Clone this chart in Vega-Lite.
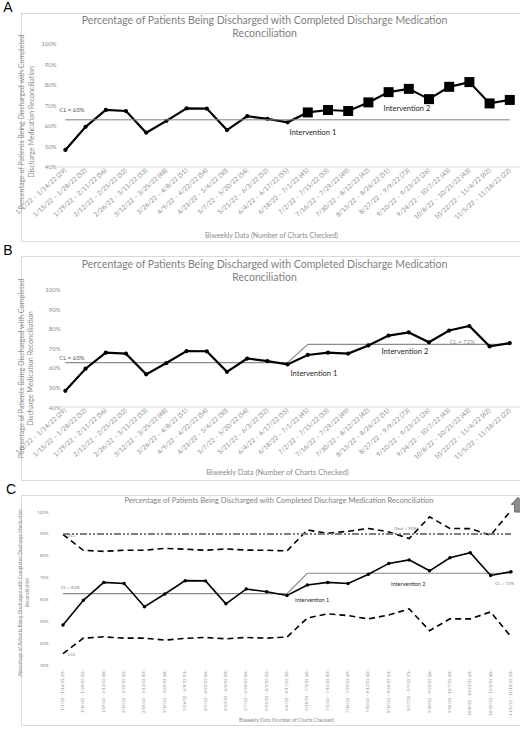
{
  "$schema": "https://vega.github.io/schema/vega-lite/v6.json",
  "padding": {"left": 2, "top": 0, "right": 0, "bottom": 0},
  "background": "white",
  "spacing": 15,
  "bounds": "flush",
  "config": {
    "view": {"stroke": "#d9d9d9", "strokeWidth": 1},
    "font": "Lato",
    "axis": {"labelFont": "Lato", "titleFont": "Lato"},
    "text": {"font": "Lato"},
    "title": {"font": "Liberation Sans", "fontSize": 14, "fontWeight": "normal", "color": "#000000", "anchor": "start", "dx": -11, "offset": -2}
  },
  "datasets": {
    "d": [
      {"period": "1/1/22 – 1/14/22 (29)", "pct": 48.3, "phase": "p1", "cl": 62.7, "ucl": 89.7, "lcl": 35.2},
      {"period": "1/15/22 – 1/28/22 (52)", "pct": 59.6, "phase": "p1", "cl": 62.7, "ucl": 82.5, "lcl": 42.3},
      {"period": "1/29/22 – 2/11/22 (56)", "pct": 67.8, "phase": "p1", "cl": 62.7, "ucl": 82.0, "lcl": 42.9},
      {"period": "2/12/22 – 2/25/22 (52)", "pct": 67.3, "phase": "p1", "cl": 62.7, "ucl": 82.5, "lcl": 42.3},
      {"period": "2/26/22 – 3/11/22 (53)", "pct": 56.7, "phase": "p1", "cl": 62.7, "ucl": 82.5, "lcl": 42.3},
      {"period": "3/12/22 – 3/25/22 (48)", "pct": 62.5, "phase": "p1", "cl": 62.7, "ucl": 83.4, "lcl": 41.4},
      {"period": "3/26/22 – 4/8/22 (51)", "pct": 68.6, "phase": "p1", "cl": 62.7, "ucl": 83.0, "lcl": 42.2},
      {"period": "4/9/22 – 4/22/22 (54)", "pct": 68.5, "phase": "p1", "cl": 62.7, "ucl": 82.5, "lcl": 42.6},
      {"period": "4/23/22 – 5/6/22 (50)", "pct": 58.0, "phase": "p1", "cl": 62.7, "ucl": 83.1, "lcl": 42.0},
      {"period": "5/7/22 – 5/20/22 (54)", "pct": 64.8, "phase": "p1", "cl": 62.7, "ucl": 82.6, "lcl": 42.6},
      {"period": "5/21/22 – 6/3/22 (52)", "pct": 63.5, "phase": "p1", "cl": 62.7, "ucl": 82.5, "lcl": 42.3},
      {"period": "6/4/22 – 6/17/22 (55)", "pct": 61.8, "phase": "p1", "cl": 62.7, "ucl": 82.2, "lcl": 42.8},
      {"period": "6/18/22 – 7/1/22 (45)", "pct": 66.6, "phase": "p2", "cl": 72.0, "ucl": 91.8, "lcl": 51.5},
      {"period": "7/2/22 – 7/15/22 (53)", "pct": 67.8, "phase": "p2", "cl": 72.0, "ucl": 90.3, "lcl": 53.4},
      {"period": "7/16/22 – 7/29/22 (49)", "pct": 67.3, "phase": "p2", "cl": 72.0, "ucl": 91.2, "lcl": 52.6},
      {"period": "7/30/22 – 8/12/22 (42)", "pct": 71.5, "phase": "p2", "cl": 72.0, "ucl": 92.5, "lcl": 51.1},
      {"period": "8/13/22 – 8/26/22 (51)", "pct": 76.5, "phase": "p2", "cl": 72.0, "ucl": 90.9, "lcl": 52.9},
      {"period": "8/27/22 – 9/9/22 (73)", "pct": 78.1, "phase": "p2", "cl": 72.0, "ucl": 87.9, "lcl": 55.7},
      {"period": "9/10/22 – 9/23/22 (26)", "pct": 73.1, "phase": "p2", "cl": 72.0, "ucl": 97.8, "lcl": 45.7},
      {"period": "9/24/22 – 10/7/22 (43)", "pct": 79.1, "phase": "p2", "cl": 72.0, "ucl": 92.5, "lcl": 51.1},
      {"period": "10/8/22 – 10/21/22 (43)", "pct": 81.4, "phase": "p2", "cl": 72.0, "ucl": 92.4, "lcl": 51.1},
      {"period": "10/22/22 – 11/4/22 (62)", "pct": 71.0, "phase": "p2", "cl": 72.0, "ucl": 89.4, "lcl": 54.3},
      {"period": "11/5/22 – 11/18/22 (22)", "pct": 72.7, "phase": "p2", "cl": 72.0, "ucl": 100.7, "lcl": 42.9}
    ]
  },
  "vconcat": [
    {
      "title": {"text": "A"},
      "width": 505,
      "height": 228,
      "data": {"name": "d"},
      "layer": [
        {
          "mark": {"type": "line", "color": "#000000", "strokeWidth": 2.2},
          "encoding": {
            "x": {
              "field": "period", "type": "ordinal", "sort": null,
              "scale": {"type": "band", "paddingInner": 0, "paddingOuter": 1.35, "align": 0.849},
              "axis": {
                "orient": "bottom", "offset": -74, "labelAngle": -42, "labelAlign": "right", "labelBaseline": "middle",
                "labelPadding": 2, "labelFontSize": 6.5, "labelColor": "#8c8c8c", "ticks": false, "domain": false, "grid": false,
                "labelOverlap": false, "labelLimit": 0,
                "title": "Biweekly Data (Number of Charts Checked)", "titleFontSize": 7, "titleColor": "#8c8c8c", "titleFontWeight": "normal",
                "titleX": 250, "titleY": 68, "titleBaseline": "middle", "titleAlign": "center"
              }
            },
            "y": {
              "field": "pct", "type": "quantitative",
              "scale": {"domain": [3.9, 115.1], "nice": false, "zero": false},
              "axis": {
                "orient": "left", "offset": -36, "values": [40, 50, 60, 70, 80, 90, 100], "tickCount": 30, "labelExpr": "datum.value + '%'",
                "ticks": false, "domain": false, "grid": false, "labelPadding": 1, "labelFontSize": 6, "labelColor": "#8c8c8c", "labelOverlap": false,
                "title": ["Percentage of Patients Being Discharged with Completed", "Discharge Medication Reconciliation"],
                "titleFontSize": 7, "titleColor": "#8c8c8c", "titleFontWeight": "normal", "titleX": -36, "titleY": 108.5,
                "titleAngle": -90, "titleAlign": "center", "titleBaseline": "middle", "titleLineHeight": 10
              }
            }
          }
        },
        {
          "mark": {"type": "point", "filled": true, "color": "#000000", "opacity": 1},
          "encoding": {
            "x": {"field": "period", "type": "ordinal", "sort": null},
            "y": {"field": "pct", "type": "quantitative"},
            "shape": {"field": "phase", "type": "nominal", "scale": {"domain": ["p1", "p2"], "range": ["circle", "square"]}, "legend": null},
            "size": {"field": "phase", "type": "ordinal", "scale": {"domain": ["p1", "p2"], "range": [18, 100]}, "legend": null}
          }
        },
        {
          "data": {"values": [{}]},
          "mark": {"type": "rule", "color": "#d9d9d9", "strokeWidth": 1},
          "encoding": {
            "x": {"datum": "1/1/22 – 1/14/22 (29)", "type": "ordinal", "bandPosition": 0},
            "x2": {"datum": "11/5/22 – 11/18/22 (22)", "bandPosition": 1},
            "y": {"datum": 40, "type": "quantitative"}
          }
        },
        {
          "data": {"values": [{}]},
          "mark": {"type": "rule", "color": "#7f7f7f", "strokeWidth": 1},
          "encoding": {
            "x": {"datum": "1/1/22 – 1/14/22 (29)", "type": "ordinal"},
            "x2": {"datum": "11/5/22 – 11/18/22 (22)"},
            "y": {"datum": 63, "type": "quantitative"}
          }
        },
        {
          "data": {"values": [{}]},
          "mark": {"type": "text", "text": "Percentage of Patients Being Discharged with Completed Discharge Medication", "align": "center", "baseline": "middle", "dx": -23, "fontSize": 10.5, "color": "#7f7f7f"},
          "encoding": {"x": {"datum": "6/4/22 – 6/17/22 (55)", "type": "ordinal"}, "y": {"datum": 111.2, "type": "quantitative"}}
        },
        {
          "data": {"values": [{}]},
          "mark": {"type": "text", "text": "Reconciliation", "align": "center", "baseline": "middle", "dx": -23, "fontSize": 10.5, "color": "#7f7f7f"},
          "encoding": {"x": {"datum": "6/4/22 – 6/17/22 (55)", "type": "ordinal"}, "y": {"datum": 104.9, "type": "quantitative"}}
        },
        {
          "data": {"values": [{}]},
          "mark": {"type": "text", "text": "CL = 63%", "align": "left", "baseline": "middle", "dx": -6, "fontSize": 6, "color": "#595959"},
          "encoding": {"x": {"datum": "1/1/22 – 1/14/22 (29)", "type": "ordinal"}, "y": {"datum": 67.7, "type": "quantitative"}}
        },
        {
          "data": {"values": [{}]},
          "mark": {"type": "text", "text": "Intervention 1", "align": "left", "baseline": "middle", "dx": 2, "fontSize": 7.5, "color": "#262626"},
          "encoding": {"x": {"datum": "6/4/22 – 6/17/22 (55)", "type": "ordinal"}, "y": {"datum": 56.7, "type": "quantitative"}}
        },
        {
          "data": {"values": [{}]},
          "mark": {"type": "text", "text": "Intervention 2", "align": "left", "baseline": "middle", "dx": -5, "fontSize": 7.5, "color": "#262626"},
          "encoding": {"x": {"datum": "8/13/22 – 8/26/22 (51)", "type": "ordinal"}, "y": {"datum": 68.5, "type": "quantitative"}}
        }
      ]
    },
    {
      "title": {"text": "B"},
      "width": 505,
      "height": 224,
      "data": {"name": "d"},
      "layer": [
        {
          "mark": {"type": "line", "color": "#8c8c8c", "strokeWidth": 1.2},
          "encoding": {
            "x": {
              "field": "period", "type": "ordinal", "sort": null,
              "scale": {"type": "band", "paddingInner": 0, "paddingOuter": 1.357, "align": 0.848},
              "axis": {
                "orient": "bottom", "offset": -73, "labelAngle": -42, "labelAlign": "right", "labelBaseline": "middle",
                "labelPadding": 2, "labelFontSize": 6.5, "labelColor": "#8c8c8c", "ticks": false, "domain": false, "grid": false,
                "labelOverlap": false, "labelLimit": 0,
                "title": "Biweekly Data (Number of Charts Checked)", "titleFontSize": 7.5, "titleColor": "#8c8c8c", "titleFontWeight": "normal",
                "titleX": 256, "titleY": 65, "titleBaseline": "middle", "titleAlign": "center"
              }
            },
            "y": {
              "field": "cl", "type": "quantitative",
              "scale": {"domain": [2.7, 117.2], "nice": false, "zero": false},
              "axis": {
                "orient": "left", "offset": -40, "values": [40, 50, 60, 70, 80, 90, 100], "tickCount": 30, "labelExpr": "datum.value + '%'",
                "ticks": false, "domain": false, "grid": false, "labelPadding": 1, "labelFontSize": 6, "labelColor": "#8c8c8c", "labelOverlap": false,
                "title": ["Percentage of Patients Being Discharged with Completed", "Discharge Medication Reconciliation"],
                "titleFontSize": 7.2, "titleColor": "#8c8c8c", "titleFontWeight": "normal", "titleX": -40, "titleY": 112,
                "titleAngle": -90, "titleAlign": "center", "titleBaseline": "middle", "titleLineHeight": 9
              }
            }
          }
        },
        {
          "mark": {"type": "line", "color": "#000000", "strokeWidth": 2.2},
          "encoding": {
            "x": {"field": "period", "type": "ordinal", "sort": null},
            "y": {"field": "pct", "type": "quantitative"}
          }
        },
        {
          "mark": {"type": "point", "filled": true, "color": "#000000", "opacity": 1, "shape": "circle", "size": 18},
          "encoding": {
            "x": {"field": "period", "type": "ordinal", "sort": null},
            "y": {"field": "pct", "type": "quantitative"}
          }
        },
        {
          "data": {"values": [{}]},
          "mark": {"type": "rule", "color": "#d9d9d9", "strokeWidth": 1},
          "encoding": {
            "x": {"datum": "1/1/22 – 1/14/22 (29)", "type": "ordinal", "bandPosition": 0},
            "x2": {"datum": "11/5/22 – 11/18/22 (22)", "bandPosition": 1},
            "y": {"datum": 40, "type": "quantitative"}
          }
        },
        {
          "data": {"values": [{}]},
          "mark": {"type": "text", "text": "Percentage of Patients Being Discharged with Completed Discharge Medication", "align": "center", "baseline": "middle", "dx": -23, "fontSize": 10.5, "color": "#7f7f7f"},
          "encoding": {"x": {"datum": "6/4/22 – 6/17/22 (55)", "type": "ordinal"}, "y": {"datum": 112.6, "type": "quantitative"}}
        },
        {
          "data": {"values": [{}]},
          "mark": {"type": "text", "text": "Reconciliation", "align": "center", "baseline": "middle", "dx": -23, "fontSize": 10.5, "color": "#7f7f7f"},
          "encoding": {"x": {"datum": "6/4/22 – 6/17/22 (55)", "type": "ordinal"}, "y": {"datum": 106, "type": "quantitative"}}
        },
        {
          "data": {"values": [{}]},
          "mark": {"type": "text", "text": "CL = 63%", "align": "left", "baseline": "middle", "dx": -6, "fontSize": 6, "color": "#595959"},
          "encoding": {"x": {"datum": "1/1/22 – 1/14/22 (29)", "type": "ordinal"}, "y": {"datum": 65.3, "type": "quantitative"}}
        },
        {
          "data": {"values": [{}]},
          "mark": {"type": "text", "text": "CL = 72%", "align": "center", "baseline": "middle", "dx": -7, "fontSize": 6, "color": "#8c8c8c"},
          "encoding": {"x": {"datum": "10/8/22 – 10/21/22 (43)", "type": "ordinal"}, "y": {"datum": 73.2, "type": "quantitative"}}
        },
        {
          "data": {"values": [{}]},
          "mark": {"type": "text", "text": "Intervention 1", "align": "left", "baseline": "middle", "dx": 3, "fontSize": 7.5, "color": "#262626"},
          "encoding": {"x": {"datum": "6/4/22 – 6/17/22 (55)", "type": "ordinal"}, "y": {"datum": 56.8, "type": "quantitative"}}
        },
        {
          "data": {"values": [{}]},
          "mark": {"type": "text", "text": "Intervention 2", "align": "left", "baseline": "middle", "dx": -7, "fontSize": 7.5, "color": "#262626"},
          "encoding": {"x": {"datum": "8/13/22 – 8/26/22 (51)", "type": "ordinal"}, "y": {"datum": 68.2, "type": "quantitative"}}
        }
      ]
    },
    {
      "title": {"text": "C"},
      "width": 505,
      "height": 230,
      "data": {"name": "d"},
      "layer": [
        {
          "mark": {"type": "line", "color": "#8c8c8c", "strokeWidth": 1.2},
          "encoding": {
            "x": {
              "field": "period", "type": "ordinal", "sort": null,
              "scale": {"type": "band", "paddingInner": 0, "paddingOuter": 0.899, "align": 0.869},
              "axis": {
                "orient": "bottom", "offset": -60, "labelAngle": -90, "labelAlign": "right", "labelBaseline": "middle",
                "labelPadding": 5, "labelFontSize": 4, "labelColor": "#8c8c8c", "ticks": false, "domain": false, "grid": false,
                "labelOverlap": false, "labelLimit": 0,
                "title": "Biweekly Data (Number of Charts Checked)", "titleFontSize": 5, "titleColor": "#8c8c8c", "titleFontWeight": "normal",
                "titleX": 265, "titleY": 54, "titleBaseline": "middle", "titleAlign": "center"
              }
            },
            "y": {
              "field": "cl", "type": "quantitative",
              "scale": {"domain": [2.55, 107.8], "nice": false, "zero": false},
              "axis": {
                "orient": "left", "offset": -28, "values": [30, 40, 50, 60, 70, 80, 90, 100], "tickCount": 30, "labelExpr": "datum.value + '%'",
                "ticks": false, "domain": false, "grid": false, "labelPadding": 1, "labelFontSize": 4.5, "labelColor": "#8c8c8c", "labelOverlap": false,
                "title": ["Percentage of Patients Being Discharged with Completed Discharge Medication", "Reconciliation"],
                "titleFontSize": 4.8, "titleColor": "#8c8c8c", "titleFontWeight": "normal", "titleX": -29, "titleY": 97,
                "titleAngle": -90, "titleAlign": "center", "titleBaseline": "middle", "titleLineHeight": 7
              }
            }
          }
        },
        {
          "mark": {"type": "line", "color": "#000000", "strokeWidth": 1.6, "strokeDash": [6, 4]},
          "encoding": {
            "x": {"field": "period", "type": "ordinal", "sort": null},
            "y": {"field": "ucl", "type": "quantitative"}
          }
        },
        {
          "mark": {"type": "line", "color": "#000000", "strokeWidth": 1.6, "strokeDash": [6, 4]},
          "encoding": {
            "x": {"field": "period", "type": "ordinal", "sort": null},
            "y": {"field": "lcl", "type": "quantitative"}
          }
        },
        {
          "mark": {"type": "line", "color": "#000000", "strokeWidth": 1.6},
          "encoding": {
            "x": {"field": "period", "type": "ordinal", "sort": null},
            "y": {"field": "pct", "type": "quantitative"}
          }
        },
        {
          "mark": {"type": "point", "filled": true, "color": "#000000", "opacity": 1, "shape": "circle", "size": 12},
          "encoding": {
            "x": {"field": "period", "type": "ordinal", "sort": null},
            "y": {"field": "pct", "type": "quantitative"}
          }
        },
        {
          "data": {"values": [{}]},
          "mark": {"type": "rule", "color": "#7f7f7f", "strokeWidth": 2, "strokeDash": [7, 2, 2, 2, 2, 2]},
          "encoding": {
            "x": {"datum": "1/1/22 – 1/14/22 (29)", "type": "ordinal"},
            "x2": {"datum": "11/5/22 – 11/18/22 (22)"},
            "y": {"datum": 90, "type": "quantitative"}
          }
        },
        {
          "data": {"values": [{}]},
          "mark": {"type": "point", "filled": true, "fill": "#8c8c8c", "stroke": "#595959", "strokeWidth": 0.8, "opacity": 1, "size": 180,
                   "shape": "M0,-1.15L1,-0.1L0.5,-0.1L0.5,1.05L-0.5,1.05L-0.5,-0.1L-1,-0.1Z"},
          "encoding": {"x": {"datum": "11/5/22 – 11/18/22 (22)", "type": "ordinal", "bandPosition": 0.84}, "y": {"datum": 103.2, "type": "quantitative"}}
        },
        {
          "data": {"values": [{}]},
          "mark": {"type": "text", "text": "Percentage of Patients Being Discharged with Completed Discharge Medication Reconciliation", "align": "center", "baseline": "middle", "dx": -8, "fontSize": 7.5, "color": "#7f7f7f"},
          "encoding": {"x": {"datum": "6/4/22 – 6/17/22 (55)", "type": "ordinal"}, "y": {"datum": 105, "type": "quantitative"}}
        },
        {
          "data": {"values": [{}]},
          "mark": {"type": "text", "text": "CL = 62%", "align": "left", "baseline": "middle", "dx": -2, "fontSize": 4.5, "color": "#7f7f7f"},
          "encoding": {"x": {"datum": "1/1/22 – 1/14/22 (29)", "type": "ordinal"}, "y": {"datum": 65.2, "type": "quantitative"}}
        },
        {
          "data": {"values": [{}]},
          "mark": {"type": "text", "text": "UCL", "align": "left", "baseline": "middle", "dx": 4, "fontSize": 4.5, "color": "#7f7f7f"},
          "encoding": {"x": {"datum": "1/1/22 – 1/14/22 (29)", "type": "ordinal"}, "y": {"datum": 89, "type": "quantitative"}}
        },
        {
          "data": {"values": [{}]},
          "mark": {"type": "text", "text": "LCL", "align": "left", "baseline": "middle", "dx": 5, "fontSize": 4.5, "color": "#7f7f7f"},
          "encoding": {"x": {"datum": "1/1/22 – 1/14/22 (29)", "type": "ordinal"}, "y": {"datum": 34.6, "type": "quantitative"}}
        },
        {
          "data": {"values": [{}]},
          "mark": {"type": "text", "text": "Goal = 90%", "align": "center", "baseline": "middle", "dx": -3.5, "fontSize": 4.5, "color": "#7f7f7f"},
          "encoding": {"x": {"datum": "8/27/22 – 9/9/22 (73)", "type": "ordinal"}, "y": {"datum": 92.2, "type": "quantitative"}}
        },
        {
          "data": {"values": [{}]},
          "mark": {"type": "text", "text": "CL = 72%", "align": "right", "baseline": "middle", "dx": 3, "fontSize": 4.5, "color": "#7f7f7f"},
          "encoding": {"x": {"datum": "11/5/22 – 11/18/22 (22)", "type": "ordinal"}, "y": {"datum": 67.1, "type": "quantitative"}}
        },
        {
          "data": {"values": [{}]},
          "mark": {"type": "text", "text": "Intervention 2", "align": "center", "baseline": "middle", "dx": -1, "fontSize": 5.5, "color": "#262626"},
          "encoding": {"x": {"datum": "8/27/22 – 9/9/22 (73)", "type": "ordinal"}, "y": {"datum": 67.1, "type": "quantitative"}}
        },
        {
          "data": {"values": [{}]},
          "mark": {"type": "text", "text": "Intervention 1", "align": "left", "baseline": "middle", "dx": 8, "fontSize": 5.5, "color": "#262626"},
          "encoding": {"x": {"datum": "6/4/22 – 6/17/22 (55)", "type": "ordinal"}, "y": {"datum": 59.7, "type": "quantitative"}}
        }
      ]
    }
  ]
}
